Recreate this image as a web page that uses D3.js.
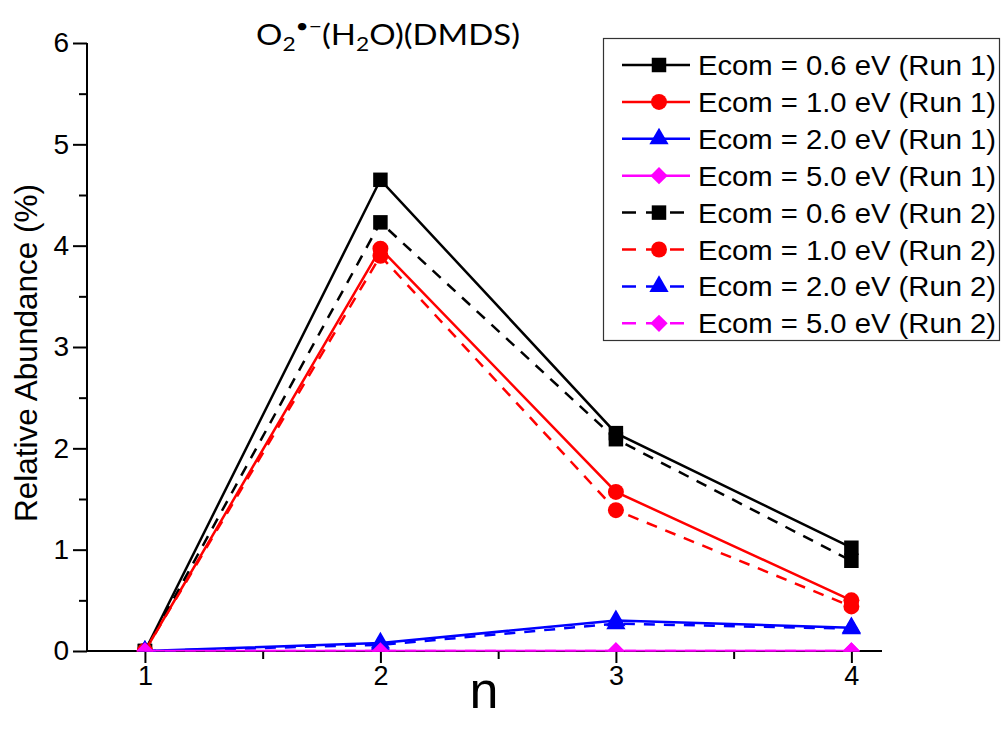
<!DOCTYPE html>
<html><head><meta charset="utf-8">
<script src="https://cdn.jsdelivr.net/npm/d3@7"></script>
<style>body{margin:0;background:#fff}svg{display:block}</style>
</head><body><svg id="c" width="1003" height="735"></svg>
<script>
// ---- data ----
const nValues = [1, 2, 3, 4];
const ecom06Run1 = [0, 4.65, 2.15, 1.02];
const ecom10Run1 = [0, 3.97, 1.57, 0.50];
const ecom20Run1 = [0, 0.08, 0.30, 0.23];
const ecom50Run1 = [0, 0, 0, 0];
const ecom06Run2 = [0, 4.23, 2.09, 0.89];
const ecom10Run2 = [0, 3.90, 1.39, 0.44];
const ecom20Run2 = [0, 0.06, 0.27, 0.22];
const ecom50Run2 = [0, 0, 0, 0];
const seriesLabels = ["Ecom = 0.6 eV (Run 1)", "Ecom = 1.0 eV (Run 1)", "Ecom = 2.0 eV (Run 1)", "Ecom = 5.0 eV (Run 1)",
                      "Ecom = 0.6 eV (Run 2)", "Ecom = 1.0 eV (Run 2)", "Ecom = 2.0 eV (Run 2)", "Ecom = 5.0 eV (Run 2)"];
const yTicks = [0, 1, 2, 3, 4, 5, 6];
const yMinorTicks = [0.5, 1.5, 2.5, 3.5, 4.5, 5.5];
const xMinorTicks = [1.5, 2.5, 3.5];
const xLabel = "n";
const yLabel = "Relative Abundance (%)";

(function () {
// ---- styles ----
const colors = ["#000000", "#ff0000", "#0000ff", "#ff00ff"];
const shapes = ["square", "circle", "triangle", "diamond"];
const allValues = [ecom06Run1, ecom10Run1, ecom20Run1, ecom50Run1, ecom06Run2, ecom10Run2, ecom20Run2, ecom50Run2];
const series = allValues.map((vals, i) => ({
  label: seriesLabels[i], color: colors[i % 4], shape: shapes[i % 4], dashed: i >= 4,
  points: nValues.map((n, j) => ({ n, v: vals[j] }))
}));

const svg = d3.select("#c");
const pL = 87, pR = 882, pT = 43, pB = 651;
const x = d3.scaleLinear().domain([0.754, 4.13]).range([pL, pR]);
const y = d3.scaleLinear().domain([0, 6]).range([pB, pT]);
const font = "'Liberation Sans', Arial, sans-serif";

function symbolPath(shape) {
  if (shape === "square") return d3.symbol(d3.symbolSquare, 210)();
  if (shape === "circle") return d3.symbol(d3.symbolCircle, 200)();
  if (shape === "triangle") return d3.symbol(d3.symbolTriangle, 160)();
  return d3.symbol(d3.symbolSquare, 150)();
}
function symbolTransform(shape, px, py) {
  return shape === "diamond" ? `translate(${px},${py}) rotate(45)` : `translate(${px},${py})`;
}

// ---- axes ----
const yAxis = d3.axisLeft(y).tickValues(yTicks).tickSize(14).tickPadding(4).tickFormat(d3.format("d"));
const gy = svg.append("g").attr("transform", `translate(${pL},0)`).call(yAxis);
gy.attr("font-size", null).attr("font-family", null);
gy.select(".domain").attr("stroke-width", 2).attr("d", `M0,${pT}V${pB}`);
gy.selectAll(".tick line").attr("stroke-width", 2);
gy.selectAll(".tick text").style("font-family", font).style("font-size", "28px").attr("fill", "#000");
svg.append("g").attr("transform", `translate(${pL},0)`)
  .call(d3.axisLeft(y).tickValues(yMinorTicks).tickSize(8).tickFormat(""))
  .call(g => g.select(".domain").remove())
  .selectAll(".tick line").attr("stroke-width", 2);

const xAxis = d3.axisBottom(x).tickValues(nValues).tickSize(12).tickPadding(3).tickFormat(d3.format("d"));
const gx = svg.append("g").attr("transform", `translate(0,${pB})`).call(xAxis);
gx.attr("font-size", null).attr("font-family", null);
gx.select(".domain").attr("stroke-width", 2).attr("d", `M${pL},0H${pR}`);
gx.selectAll(".tick line").attr("stroke-width", 2);
gx.selectAll(".tick text").style("font-family", font).style("font-size", "27px").attr("fill", "#000");
svg.append("g").attr("transform", `translate(0,${pB})`)
  .call(d3.axisBottom(x).tickValues(xMinorTicks).tickSize(8).tickFormat(""))
  .call(g => g.select(".domain").remove())
  .selectAll(".tick line").attr("stroke-width", 2);

// axis titles
svg.append("text").attr("x", 484).attr("y", 708).attr("text-anchor", "middle")
  .style("font-family", font).style("font-size", "52px").text(xLabel);
svg.append("text").attr("transform", `translate(37,${(pT + pB) / 2 + 6}) rotate(-90)`)
  .attr("text-anchor", "middle").style("font-family", font).style("font-size", "32px")
  .attr("textLength", 338).attr("lengthAdjust", "spacingAndGlyphs").text(yLabel);

// title
const title = svg.append("text").attr("x", 256).attr("y", 45)
  .style("font-family", "Lato, 'Open Sans', sans-serif").style("font-size", "29px")
  .attr("textLength", 264).attr("lengthAdjust", "spacingAndGlyphs");
title.append("tspan").text("O");
title.append("tspan").style("font-size", "20px").attr("dy", 6).text("2");
title.append("tspan").style("font-size", "20px").attr("dy", -18).text("\u2022\u2212");
title.append("tspan").attr("dy", 12).text("(H");
title.append("tspan").style("font-size", "20px").attr("dy", 6).text("2");
title.append("tspan").attr("dy", -6).text("O)(DMDS)");

// ---- data marks ----
svg.append("defs").append("clipPath").attr("id", "plotClip")
  .append("rect").attr("x", pL).attr("y", 0).attr("width", 1003 - pL).attr("height", pB + 0.5);
const plot = svg.append("g").attr("clip-path", "url(#plotClip)");
const line = d3.line().x(d => x(d.n)).y(d => y(d.v));
series.forEach(s => {
  const g = plot.append("g");
  g.append("path").attr("d", line(s.points)).attr("fill", "none").attr("stroke", s.color)
    .attr("stroke-width", 2.5).attr("stroke-dasharray", s.dashed ? "11,9" : null);
  g.selectAll("path.m").data(s.points).join("path").attr("class", "m")
    .attr("d", symbolPath(s.shape)).attr("transform", d => symbolTransform(s.shape, x(d.n), y(d.v)))
    .attr("fill", s.color);
});

// ---- legend ----
const lg = svg.append("g");
lg.append("rect").attr("x", 603.5).attr("y", 38.5).attr("width", 396).attr("height", 302)
  .attr("fill", "#fff").attr("stroke", "#333").attr("stroke-width", 1.2);
series.forEach((s, i) => {
  const cy = 65 + i * 36.9;
  lg.append("line").attr("x1", 622).attr("x2", 690).attr("y1", cy).attr("y2", cy)
    .attr("stroke", s.color).attr("stroke-width", 2.5).attr("stroke-dasharray", s.dashed ? "14,10" : null);
  lg.append("path").attr("d", symbolPath(s.shape)).attr("transform", symbolTransform(s.shape, 659, cy)).attr("fill", s.color);
  lg.append("text").attr("x", 698).attr("y", cy + 10).style("font-family", font).style("font-size", "28px")
    .attr("textLength", 298).attr("lengthAdjust", "spacingAndGlyphs").text(s.label);
});
})();
</script></body></html>
